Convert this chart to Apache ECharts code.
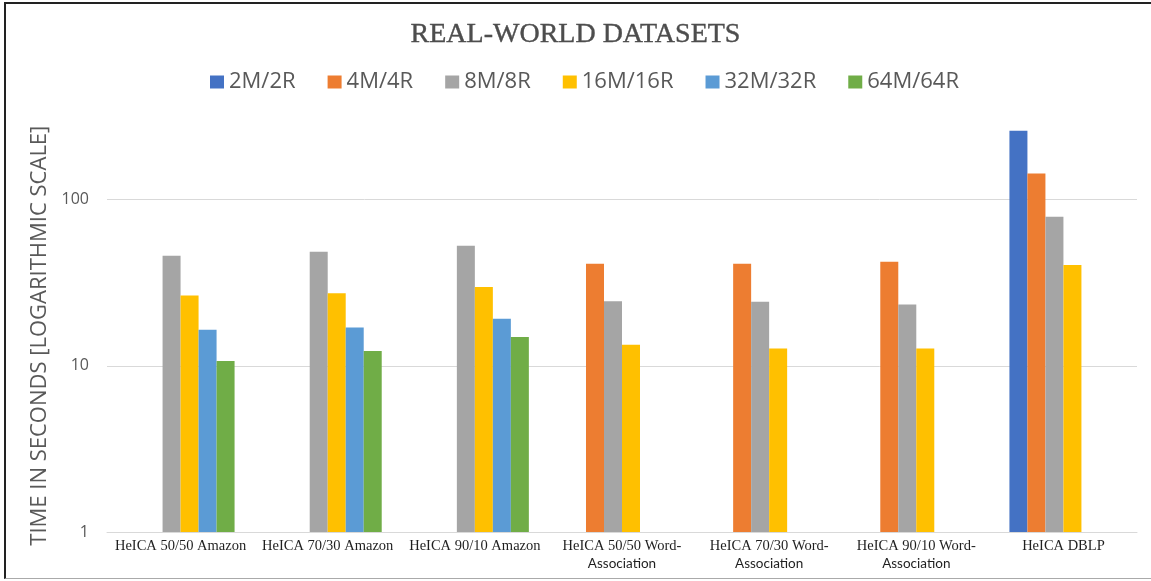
<!DOCTYPE html>
<html>
<head>
<meta charset="utf-8">
<script src="https://cdn.jsdelivr.net/npm/echarts@6/dist/echarts.min.js"></script>
<style>
  html, body { margin: 0; padding: 0; background: #fff; }
  #chart { position: absolute; left: 0; top: 0; width: 1151px; height: 581px; }
  #frame { position: absolute; left: 4px; top: 2px; width: 1147px; height: 577px;
           border-top: 2px solid #222; border-left: 2px solid #222; border-bottom: 1px solid #aaa;
           box-sizing: border-box; pointer-events: none; }
</style>
</head>
<body>
<div id="chart"></div>
<div id="frame"></div>
<script>
const categories = [
  'HeICA 50/50 Amazon',
  'HeICA 70/30 Amazon',
  'HeICA 90/10 Amazon',
  'HeICA 50/50 Word-\nAssociation',
  'HeICA 70/30 Word-\nAssociation',
  'HeICA 90/10 Word-\nAssociation',
  'HeICA DBLP'
];
const seriesNames = ['2M/2R', '4M/4R', '8M/8R', '16M/16R', '32M/32R', '64M/64R'];
const s2M  = [null, null, null, null, null, null, 260];
const s4M  = [null, null, null, 41.2, 41.2, 42.3, 144];
const s8M  = [46.0, 48.6, 52.8, 24.5, 24.3, 23.4, 79];
const s16M = [26.5, 27.4, 29.8, 13.4, 12.7, 12.7, 40.4];
const s32M = [16.5, 17.0, 19.2, null, null, null, null];
const s64M = [10.7, 12.3, 14.9, null, null, null, null];
const yTicks = [1, 10, 100];

const colors = ['#4472C4', '#ED7D31', '#A5A5A5', '#FFC000', '#5B9BD5', '#70AD47'];
const allData = [s2M, s4M, s8M, s16M, s32M, s64M];

const chart = echarts.init(document.getElementById('chart'), null, { renderer: 'canvas' });
chart.setOption({
  animation: false,
  color: colors,
  title: {
    text: 'REAL-WORLD DATASETS',
    left: 'center',
    top: 16,
    textStyle: { fontFamily: 'Liberation Serif', fontSize: 28, fontWeight: 'normal', color: '#4d4d4d',
                 textBorderColor: '#4d4d4d', textBorderWidth: 0.4 }
  },
  legend: {
    left: 205,
    top: 66,
    icon: 'rect',
    itemWidth: 14,
    itemHeight: 13,
    itemGap: 32,
    textStyle: { fontFamily: 'Open Sans', fontSize: 22, color: '#595959' },
    data: seriesNames
  },
  grid: { left: 107, right: 14, top: 129.4, bottom: 49, containLabel: false },
  xAxis: {
    type: 'category',
    data: categories,
    axisTick: { show: false },
    axisLine: { lineStyle: { color: '#d9d9d9', width: 1 } },
    axisLabel: {
      margin: 6,
      interval: 0,
      formatter: function (v) {
        const parts = v.split('\n');
        let s = '{a|' + parts[0] + '}';
        for (let i = 1; i < parts.length; i++) s += '\n{b|' + parts[i] + '}';
        return s;
      },
      rich: {
        a: { fontFamily: 'Liberation Serif', fontSize: 14.5, color: '#1f1f1f', lineHeight: 17 },
        b: { fontFamily: 'Lato', fontSize: 13.5, color: '#1f1f1f', lineHeight: 17 }
      }
    }
  },
  yAxis: {
    type: 'log',
    logBase: 10,
    min: 1,
    max: 265,
    name: 'TIME IN SECONDS [LOGARITHMIC SCALE]',
    nameLocation: 'middle',
    nameGap: 54,
    nameTextStyle: { fontFamily: 'Open Sans', fontSize: 22, color: '#595959', padding: [0, 10, 0, 0] },
    axisLine: { show: false },
    axisTick: { show: false },
    axisLabel: {
      margin: 18,
      fontFamily: 'Open Sans',
      fontSize: 16,
      color: '#595959',
      showMaxLabel: false,
      formatter: function (v) { return yTicks.indexOf(Math.round(v)) >= 0 && Math.abs(v - Math.round(v)) < 1e-6 ? String(Math.round(v)) : ''; }
    },
    splitLine: { show: true, showMaxLine: false, lineStyle: { color: '#d9d9d9', width: 1 } }
  },
  series: seriesNames.map(function (name, i) {
    return {
      name: name,
      type: 'bar',
      data: allData[i],
      barGap: '0%',
      barCategoryGap: '26.6%',
      itemStyle: { color: colors[i] }
    };
  })
});
</script>
</body>
</html>
